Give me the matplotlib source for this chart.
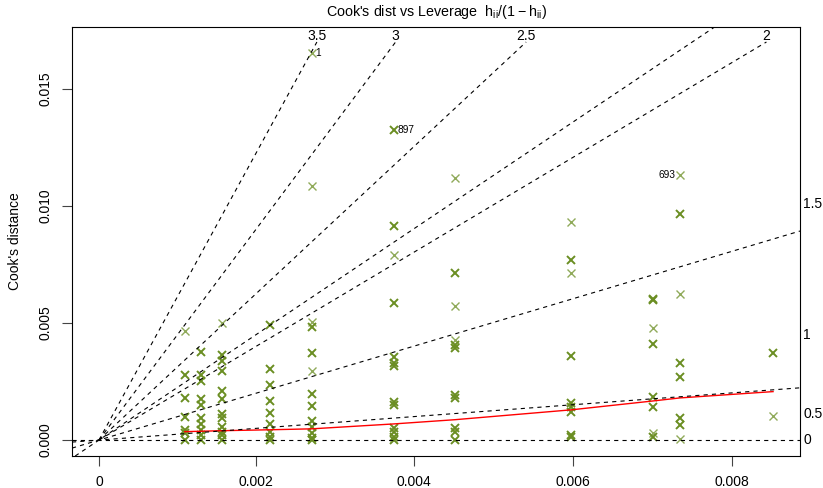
import matplotlib
matplotlib.use('Agg')
import matplotlib.pyplot as plt
import numpy as np

plt.rcParams['font.family'] = ['Liberation Sans', 'DejaVu Sans']
plt.rcParams['mathtext.fontset'] = 'custom'
plt.rcParams['mathtext.rm'] = 'Liberation Sans'
plt.rcParams['lines.scale_dashes'] = False

# leverage columns (h/(1-h)) and Cook's distances
col_g = [0.001092, 0.001296, 0.001563, 0.002175, 0.002710, 0.003755,
         0.004532, 0.006010, 0.007054, 0.007398, 0.008584]
cook_dark = [
    [0.00276, 0.00178, 0.00100, 0.00044, 0.00030, 0.0],
    [0.00376, 0.00278, 0.00253, 0.00176, 0.00150, 0.00095, 0.00070, 0.00044, 0.00022, 0.0],
    [0.00364, 0.00338, 0.00296, 0.00210, 0.00176, 0.00112, 0.00095, 0.00057, 0.00036, 0.00023, 0.0],
    [0.00491, 0.00304, 0.00236, 0.00168, 0.00116, 0.00069, 0.00035, 0.00015, 0.0],
    [0.00483, 0.00371, 0.00197, 0.00146, 0.00080, 0.00057, 0.00032, 0.00010, 0.0],
    [0.01323, 0.00913, 0.00584, 0.00356, 0.00330, 0.00316, 0.00162, 0.00150, 0.00051, 0.00036, 0.00015, 0.0],
    [0.00712, 0.00406, 0.00392, 0.00194, 0.00178, 0.00051, 0.00036, 0.0],
    [0.00771, 0.00359, 0.00158, 0.00141, 0.00122, 0.00023, 0.00015],
    [0.00601, 0.00597, 0.00410, 0.00186, 0.00143, 0.00015],
    [0.00967, 0.00331, 0.00268, 0.00094, 0.00065],
    [0.00373],
]
cook_light = [
    [0.00465],
    [],
    [0.00499],
    [],
    [0.01655, 0.01083, 0.00505, 0.00296],
    [0.00790],
    [0.01118, 0.00574, 0.00428],
    [0.00932, 0.00712],
    [0.00480, 0.00030],
    [0.01134, 0.00623, 0.00004],
    [0.00101],
]
# labelled observations: (label, g, cook, side)
ids = [('1', 0.002710, 0.01655, 'left'), ('897', 0.003755, 0.01323, 'left'),
       ('693', 0.007398, 0.01134, 'right')]

# smoother
smooth_g = [0.001092, 0.001563, 0.002175, 0.002710, 0.003755, 0.004532,
            0.006010, 0.007054, 0.007398, 0.008584]
smooth_cook = [0.00036, 0.00040, 0.00044, 0.00048, 0.00069, 0.00087,
               0.00129, 0.00167, 0.00180, 0.00207]

bval = [0, 0.5, 1, 1.5, 2, 2.5, 3, 3.5]
p = 2
hat_ticks = [0, 0.002, 0.004, 0.006, 0.008]

xlim = (-0.000343, 0.008927)
ylim = (-0.00068, 0.01764)

fig = plt.figure(figsize=(8.23, 4.88), dpi=100)
ax = fig.add_axes([72/823, 32/488, 728/823, 429/488])
ax.set_xlim(xlim)
ax.set_ylim(ylim)

green = '#6b8e23'
for g, ys in zip(col_g, cook_dark):
    ax.plot([g]*len(ys), ys, 'x', color=green, ms=6, mew=1.4, alpha=1.0)
for g, ys in zip(col_g, cook_light):
    ax.plot([g]*len(ys), ys, 'x', color=green, ms=6, mew=1.0, alpha=0.75)

ax.plot(smooth_g, smooth_cook, color='red', lw=1)

for lab, g, c, side in ids:
    if side == 'left':
        ax.text(g + 0.00005, c, lab, ha='left', va='center', fontsize=7.3)
    else:
        ax.text(g - 0.00005, c, lab, ha='right', va='center', fontsize=7.3)

xmax = xlim[1]
ymax = ylim[1]
sh = 10 * (ylim[1] - ylim[0]) / 429
dash = dict(color='black', lw=0.8, dashes=(3, 3))
for b in bval:
    b2 = b ** 2
    lab = str(b) if b != int(b) else str(int(b))
    if p * ymax > b2 * xmax:
        ax.axline((0, 0), slope=b2, **dash)
        xi = xmax + 0.00004
        ax.text(xi, b2 * xi / p, lab, ha='left', va='center', fontsize=10,
                clip_on=False)
    else:
        yi = ymax - 1.5 * sh
        xi = p * yi / b2
        ax.plot([0, xi], [0, yi], **dash)
        ax.text(xi, ymax - 1.3 * sh, lab, ha='center', va='baseline', fontsize=10)

ax.set_xticks([a / (1 - a) for a in hat_ticks])
ax.set_xticklabels([str(a) if a else '0' for a in hat_ticks])
ax.set_yticks([0, 0.005, 0.010, 0.015])
ax.set_yticklabels(['0.000', '0.005', '0.010', '0.015'], rotation=90, va='center')
ax.tick_params(length=7, width=0.8, pad=7, labelsize=10, color='#444444')
for s in ax.spines.values():
    s.set_linewidth(0.8)

fig.text(436/823, 1 - 12/488, r"Cook's dist vs Leverage  $\mathrm{h_{ii}/(1-h_{ii})}$",
         ha='center', va='center', fontsize=10.3)
fig.text(15/823, 1 - 241.5/488, "Cook's distance", rotation=90,
         ha='center', va='center', fontsize=10)

fig.savefig('out.png', dpi=100)
